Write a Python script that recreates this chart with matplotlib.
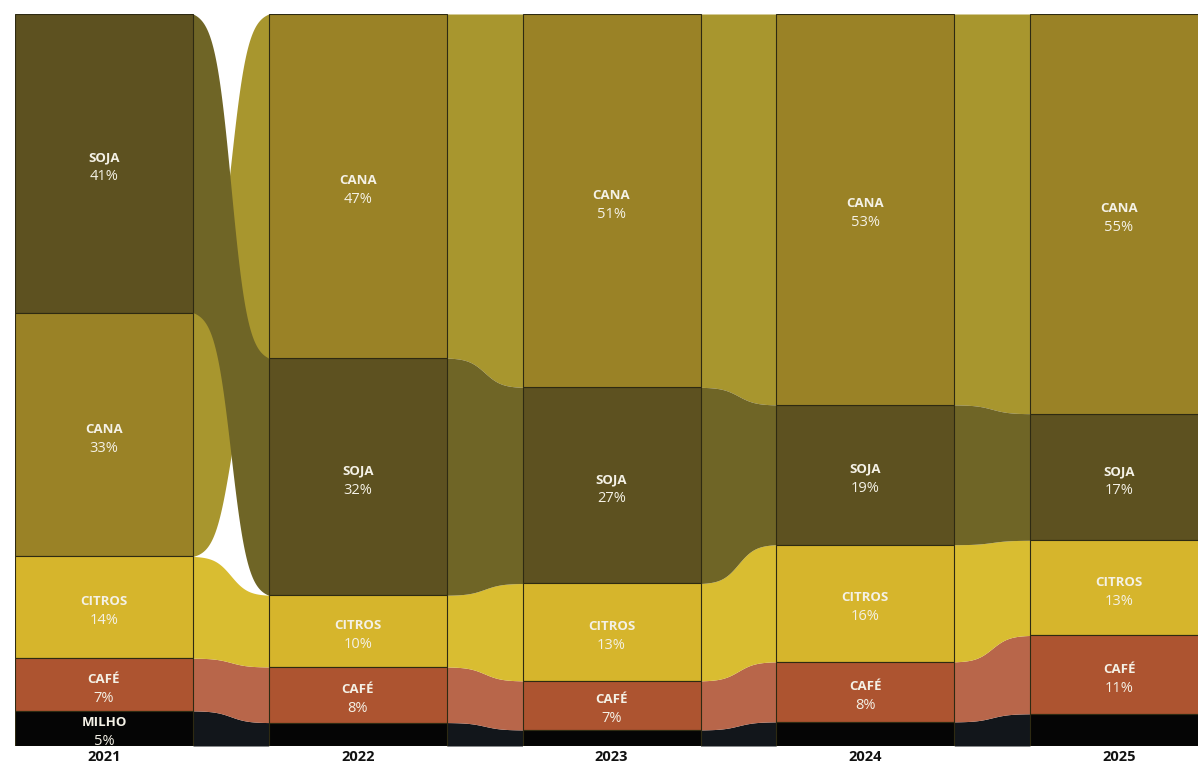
import numpy as np
import matplotlib
matplotlib.use("Agg")
import matplotlib.pyplot as plt
from matplotlib.patches import Rectangle

plt.rcParams['font.family'] = ['Open Sans', 'DejaVu Sans']

years = ["2021", "2022", "2023", "2024", "2025"]
categories = ["SOJA", "CANA", "CITROS", "CAFÉ", "MILHO"]
soja = [40.8, 32.4, 26.8, 19.1, 17.3]
cana = [33.3, 47.0, 51.0, 53.4, 54.6]
citros = [13.9, 9.8, 13.3, 16.0, 13.0]
cafe = [7.2, 7.6, 6.7, 8.2, 10.7]
milho = [4.8, 3.2, 2.2, 3.3, 4.4]
series = {"SOJA": soja, "CANA": cana, "CITROS": citros, "CAFÉ": cafe, "MILHO": milho}

box_colors = {"SOJA": "#5d5120", "CANA": "#9a8226", "CITROS": "#d6b52c",
              "CAFÉ": "#ad5430", "MILHO": "#050505"}
ribbon_colors = {"SOJA": "#6f6526", "CANA": "#a8962e", "CITROS": "#d9bd31",
                 "CAFÉ": "#b8664a", "MILHO": "#12161b"}
ribbon_order = ["MILHO", "CAFÉ", "CITROS", "CANA", "SOJA"]

W, H = 1198, 771
fig = plt.figure(figsize=(W / 100, H / 100), dpi=100)
left_px, right_px, top_px, bot_px = 15, 1198, 14, 746
ax = fig.add_axes([left_px / W, (H - bot_px) / H, (right_px - left_px) / W, (bot_px - top_px) / H])
pitch = 253.75
colw = 178 / pitch
ax.set_xlim(0, (right_px - left_px) / pitch)
ax.set_ylim(100, 0)
ax.axis("off")

# stacked positions (largest on top), normalised to 100
pos = []
for i in range(len(years)):
    vals = [(c, series[c][i]) for c in categories]
    total = sum(v for _, v in vals)
    vals_sorted = sorted(vals, key=lambda t: -t[1])
    y = 0
    d = {}
    for c, v in vals_sorted:
        h = v * 100 / total
        d[c] = (y, y + h)
        y += h
    pos.append(d)

# ribbons
t = np.linspace(0, 1, 300)
k = 9.0
lg = 1 / (1 + np.exp(-k * (t - 0.5)))
s = (lg - lg[0]) / (lg[-1] - lg[0])
for i in range(len(years) - 1):
    x0 = i + colw
    x1 = i + 1
    xs = x0 + (x1 - x0) * t
    for c in ribbon_order:
        ta, ba = pos[i][c]
        tb, bb = pos[i + 1][c]
        top = ta + (tb - ta) * s
        bot = ba + (bb - ba) * s
        ax.fill_between(xs, top, bot, color=ribbon_colors[c], lw=0, zorder=1)

# boxes
for i in range(len(years)):
    for c in categories:
        y0, y1 = pos[i][c]
        r = Rectangle((i, y0), colw, y1 - y0, facecolor=box_colors[c],
                      edgecolor="#2e2a12", lw=0.8, zorder=2)
        ax.add_patch(r)
        v = series[c][i]
        if v >= 4.5:
            cx = i + colw / 2
            cy = (y0 + y1) / 2
            t1 = ax.text(cx, cy - 0.75, c, ha="center", va="center", color="#f4f1e6",
                         fontsize=9.5, fontweight="bold", zorder=3)
            t2 = ax.text(cx, cy + 1.85, f"{int(round(v))}%", ha="center", va="center",
                         color="#f4f1e6", fontsize=10.5, zorder=3)
            t1.set_clip_path(r)
            t2.set_clip_path(r)
    ax.text(i + colw / 2, 100.5, years[i], ha="center", va="top", fontsize=10.5,
            fontweight="bold", color="#111111", clip_on=False)

fig.savefig("out.png", dpi=100, facecolor="white")
